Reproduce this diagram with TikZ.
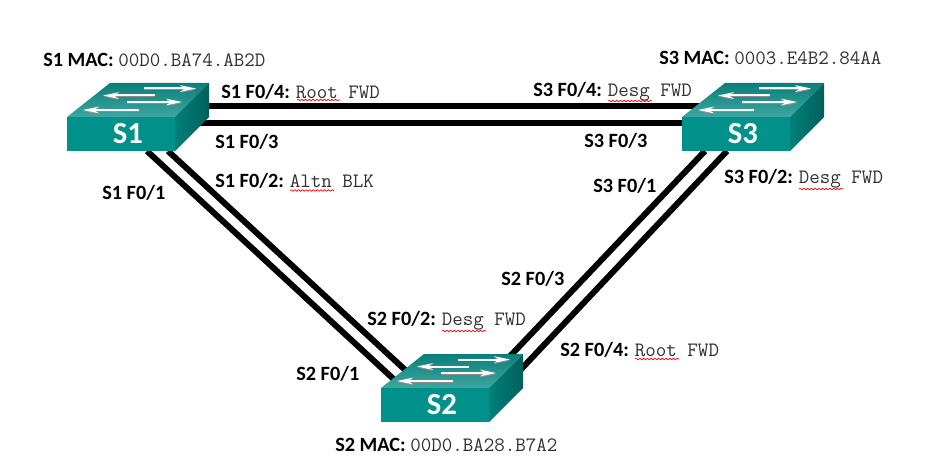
\documentclass[tikz,border=0pt]{standalone}
\usepackage{fontspec}
\setmainfont{Carlito}
\usetikzlibrary{arrows.meta,backgrounds,decorations.pathmorphing}
\definecolor{teal front}{HTML}{00918A}
\definecolor{teal back}{HTML}{0A7F79}
\definecolor{teal light}{HTML}{3FA6A1}
\definecolor{teal side}{HTML}{00807A}
\definecolor{teal dark}{HTML}{005F5A}
\definecolor{mac ink}{HTML}{303030}
\tikzset{
	port/.style={anchor=west, inner sep=0pt, font=\fontsize{15.2}{17}\bfseries\selectfont},
	wire/.style={line width=4.5pt, black},
	swarrow/.style={white, line width=1.5pt, -{Stealth[length=12pt,width=5pt]}},
	swshadow/.style={black!45, line width=1pt, -{Stealth[length=12pt,width=5pt]}},
	swlabel/.style={minimum width=81pt, minimum height=25.5pt, inner sep=0pt, anchor=north west, fill=teal front, text=white, font=\fontsize{23}{25}\bfseries\selectfont},
	squiggle/.style={red, line width=0.5pt, decorate, decoration={snake, amplitude=0.6pt, segment length=2.8pt}}
}
\newcommand{\state}[1]{{\fontsize{15.3}{17}\ttfamily\mdseries\color{mac ink}#1}}
% one switch: name, top left corner of the front face
\newcommand{\switchbox}[3]{
	\begin{scope}[shift={(#2,#3)}]
		\shade[top color=teal back, bottom color=teal light] (0,0) -- (43,-34) -- (142,-34) -- (108,0) -- cycle;
		\shade[left color=teal side, right color=teal dark] (108,0) -- (142,-34) -- (142,0) -- (108,34) -- cycle;
		\foreach \xa/\xb/\ya in {77/129/-28.5, 88/36/-21.5, 60/115/-15, 72/16/-7} {
			\draw[swshadow] (\xa,\ya+1.2) -- (\xb,\ya+1.2);
			\draw[swarrow] (\xa,\ya) -- (\xb,\ya);
		}
	\end{scope}
	\node[swlabel] (#1) at (#2,#3) {\hspace*{10pt}\raisebox{1pt}{#1}};
}
\begin{document}
\begin{tikzpicture}[x=0.75pt, y=-0.75pt]
	\useasboundingbox (0,0) rectangle (936,474);

	% Switches
	\switchbox{S1}{67}{117}
	\switchbox{S3}{682}{117}
	\switchbox{S2}{381}{388}

	% Wire ends behind the switches
	\coordinate (S1p4) at (200,106);
	\coordinate (S3p4) at (700,106);
	\coordinate (S1p3) at (170,123);
	\coordinate (S3p3) at (690,123);
	\coordinate (S1p1) at (147,151);
	\coordinate (S2p1) at (400,385);
	\coordinate (S1p2) at (168,151);
	\coordinate (S2p2) at (415,379);
	\coordinate (S3p1) at (705,151);
	\coordinate (S2p3) at (495,372);
	\coordinate (S3p2) at (727,151);
	\coordinate (S2p4) at (510,381);

	% Links
	\begin{scope}[on background layer]
		\foreach \from/\to in {S1p4/S3p4, S1p3/S3p3, S1p1/S2p1, S1p2/S2p2, S3p1/S2p3, S3p2/S2p4}
			\draw[wire] (\from) -- (\to);
	\end{scope}

	% MAC addresses
	\node[port] (macS1) at (43,60) {S1 MAC: \state{00D0.BA74.AB2D}};
	\node[port] (macS3) at (659,58) {S3 MAC: \state{0003.E4B2.84AA}};
	\node[port] (macS2) at (335,445) {S2 MAC: \state{00D0.BA28.B7A2}};

	% Port labels
	\node[port] (lblS1p4) at (221,92) {S1 F0/4: \state{Root FWD}};
	\node[port] (lblS3p4) at (533,92) {S3 F0/4: \state{Desg FWD}};
	\node[port] (lblS1p3) at (215,142) {S1 F0/3};
	\node[port] (lblS3p3) at (584,141) {S3 F0/3};
	\node[port] (lblS1p1) at (102,193) {S1 F0/1};
	\node[port] (lblS1p2) at (215,181) {S1 F0/2: \state{Altn BLK}};
	\node[port] (lblS3p1) at (593,186) {S3 F0/1};
	\node[port] (lblS3p2) at (724,179) {S3 F0/2: \state{Desg FWD}};
	\node[port] (lblS2p3) at (501,279) {S2 F0/3};
	\node[port] (lblS2p2) at (367,321) {S2 F0/2: \state{Desg FWD}};
	\node[port] (lblS2p4) at (560,350) {S2 F0/4: \state{Root FWD}};
	\node[port] (lblS2p1) at (296,374) {S2 F0/1};

	% Spelling marks
	\foreach \xa/\xb/\ya in {297/340/100, 290/334/190.5, 608/652/101, 799/843/189, 442/486/331, 635/679/359}
		\draw[squiggle] (\xa,\ya) -- (\xb,\ya);
\end{tikzpicture}
\end{document}
